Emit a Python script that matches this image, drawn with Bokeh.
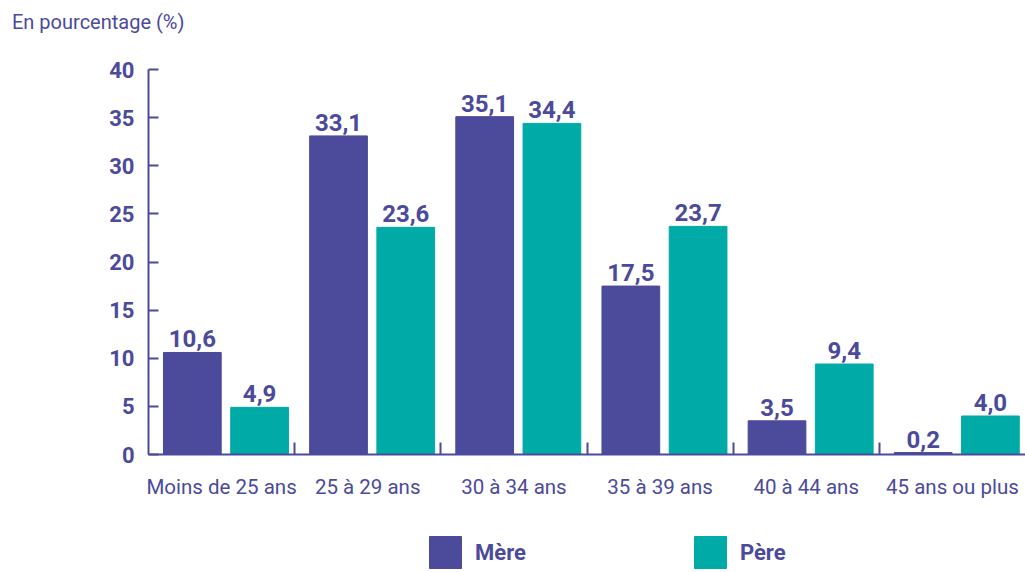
from bokeh.plotting import figure
from bokeh.models import ColumnDataSource, FixedTicker, Range1d, Legend, LegendItem, Div
from bokeh.layouts import column
from bokeh.core.properties import value
from bokeh.embed import file_html
from bokeh.resources import INLINE

categories = ["Moins de 25 ans", "25 à 29 ans", "30 à 34 ans", "35 à 39 ans", "40 à 44 ans", "45 ans ou plus"]
mere = [10.6, 33.1, 35.1, 17.5, 3.5, 0.2]
pere = [4.9, 23.6, 34.4, 23.7, 9.4, 4.0]
y_ticks = [0, 5, 10, 15, 20, 25, 30, 35, 40]
series_names = ["Mère", "Père"]

PURPLE = "#4b4a9b"
TEAL = "#00aaa6"
FONT = "Roboto"

def fmt(v):
    return f"{v:.1f}".replace(".", ",")

idx = list(range(len(categories)))
src_m = ColumnDataSource(dict(x=[i + 0.30 for i in idx], y=mere, lab=[fmt(v) for v in mere]))
src_p = ColumnDataSource(dict(x=[i + 0.76 for i in idx], y=pere, lab=[fmt(v) for v in pere]))

title = Div(text="En pourcentage (%)", width=1025, height=40, margin=0,
            styles={"font-family": FONT, "font-size": "20px", "color": PURPLE,
                    "line-height": "24px", "padding-top": "10px", "padding-left": "12px"})

p = figure(width=1025, height=480, output_backend="svg", toolbar_location=None,
           x_range=Range1d(0, len(categories)), y_range=Range1d(0, 40),
           min_border_left=148, min_border_right=0, min_border_top=29, min_border_bottom=66)
p.outline_line_color = None
p.xgrid.grid_line_color = None
p.ygrid.grid_line_color = None
p.background_fill_color = "white"

rm = p.vbar(x="x", top="y", width=0.395, source=src_m, color=PURPLE)
rp = p.vbar(x="x", top="y", width=0.395, source=src_p, color=TEAL)

for src in (src_m, src_p):
    p.text(x="x", y="y", text="lab", source=src, text_align="center", text_baseline="bottom",
           y_offset=-5, text_font=value(FONT), text_font_style="bold", text_font_size="24px",
           text_color=PURPLE)

# x axis
xa = p.xaxis[0]
xa.ticker = FixedTicker(ticks=[i + 0.5 for i in idx], minor_ticks=[i for i in idx[1:]])
xa.major_label_overrides = {i + 0.5: c for i, c in zip(idx, categories)}
xa.major_tick_line_color = None
xa.minor_tick_line_color = PURPLE
xa.minor_tick_line_width = 2
xa.minor_tick_in = 12
xa.minor_tick_out = 0
xa.axis_line_color = PURPLE
xa.axis_line_width = 2
xa.major_label_text_font = FONT
xa.major_label_text_font_size = "20.5px"
xa.major_label_text_color = PURPLE
xa.major_label_standoff = 14

ya = p.yaxis[0]
ya.ticker = FixedTicker(ticks=y_ticks)
ya.axis_line_color = PURPLE
ya.axis_line_width = 2
ya.major_tick_line_color = PURPLE
ya.major_tick_line_width = 2
ya.major_tick_in = 10
ya.major_tick_out = 0
ya.minor_tick_line_color = None
ya.major_label_text_font = FONT
ya.major_label_text_font_style = "bold"
ya.major_label_text_font_size = "22px"
ya.major_label_text_color = PURPLE
ya.major_label_standoff = 14

# legend strip (legend swatches reuse the series sources; the view range keeps bars out of sight)
leg = figure(width=1025, height=52, output_backend="svg", toolbar_location=None,
             x_range=Range1d(100, 101), y_range=Range1d(100, 101),
             min_border_left=148, min_border_right=0, min_border_top=0, min_border_bottom=0)
leg.axis.visible = False
leg.grid.visible = False
leg.outline_line_color = None
lm = leg.vbar(x="x", top="y", width=0.395, source=src_m, color=PURPLE)
lp = leg.vbar(x="x", top="y", width=0.395, source=src_p, color=TEAL)
legend = Legend(items=[LegendItem(label=series_names[0], renderers=[lm]),
                       LegendItem(label=series_names[1], renderers=[lp])],
                orientation="horizontal", location=(277, 0), padding=0, margin=0,
                glyph_width=40, glyph_height=40, label_standoff=10, spacing=164,
                label_text_font=FONT, label_text_font_style="bold", label_text_font_size="22px",
                label_text_color=PURPLE, border_line_color=None, background_fill_alpha=0)
leg.add_layout(legend, "center")

layout = column(title, p, leg, spacing=0)
open("out.html", "w").write(file_html(layout, INLINE))
